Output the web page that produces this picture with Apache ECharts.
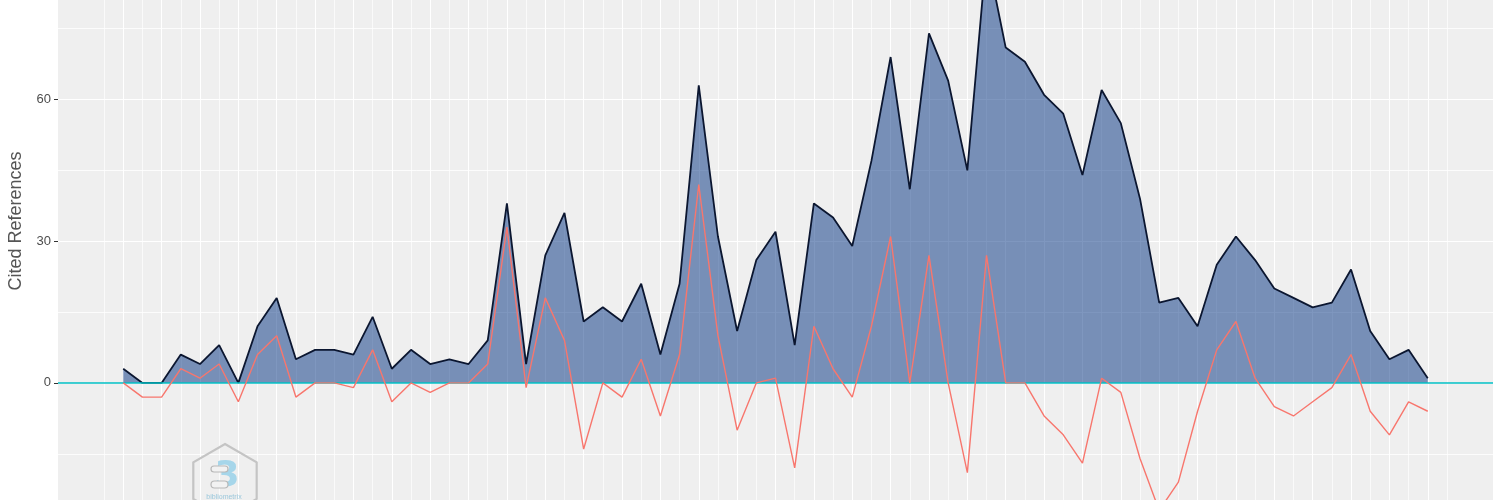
<!DOCTYPE html>
<html>
<head>
<meta charset="utf-8">
<script src="https://cdn.jsdelivr.net/npm/echarts@6/dist/echarts.min.js"></script>
<style>
html,body{margin:0;padding:0;background:#fff;}
#chart{width:1500px;height:500px;}
</style>
</head>
<body>
<div id="chart"></div>
<script>
// Reference years (x positions; axis labels are outside the visible crop)
const years = [1950,1951,1952,1953,1954,1955,1956,1957,1958,1959,
  1960,1961,1962,1963,1964,1965,1966,1967,1968,1969,
  1970,1971,1972,1973,1974,1975,1976,1977,1978,1979,
  1980,1981,1982,1983,1984,1985,1986,1987,1988,1989,
  1990,1991,1992,1993,1994,1995,1996,1997,1998,1999,
  2000,2001,2002,2003,2004,2005,2006,2007,2008,2009,
  2010,2011,2012,2013,2014,2015,2016,2017,2018];

// Number of cited references (black line / blue area)
const citedReferences = [3,0,0,6,4,8,0,12,18,5,
  7,7,6,14,3,7,4,5,4,9,
  38,4,27,36,13,16,13,21,6,21,
  63,31,11,26,32,8,38,35,29,47,
  69,41,74,64,45,91,71,68,61,57,
  44,62,55,39,17,18,12,25,31,26,
  20,18,16,17,24,11,5,7,1];

// Deviation from the 5-year median (red line)
const medianDeviation = [0,-3,-3,3,1,4,-4,6,10,-3,
  0,0,-1,7,-4,0,-2,0,0,4,
  33,-1,18,9,-14,0,-3,5,-7,6,
  42,10,-10,0,1,-18,12,3,-3,12,
  31,0,27,0,-19,27,0,0,-7,-11,
  -17,1,-2,-16,-27,-21,-6,7,13,1,
  -5,-7,-4,-1,6,-6,-11,-4,-6];

// y axis: labelled (major) ticks and minor grid values
const yTickValues = [0, 30, 60];
const yMinorValues = [-15, 15, 45, 75];
const yTitle = 'Cited References';

const chart = echarts.init(document.getElementById('chart'), null, {renderer: 'canvas'});

const n = years.length;
const xPad = (years[n - 1] - years[0]) * 0.05;

// grid lines drawn through the axes' scales
const gridLines = [];
for (let i = -1; i <= n; i++) {
  const yr = years[0] + i;
  const major = (i % 2 === 0);
  gridLines.push({xAxis: yr, lineStyle: {color: '#FFFFFF', width: major ? 1.1 : 0.7, type: 'solid'}});
}
yTickValues.forEach(v => gridLines.push({yAxis: v, lineStyle: {color: '#FFFFFF', width: 1.1, type: 'solid'}}));
yMinorValues.forEach(v => gridLines.push({yAxis: v, lineStyle: {color: '#FFFFFF', width: 0.8, type: 'solid'}}));

const areaData = years.map((y, i) => [y, citedReferences[i]]);
const devData = years.map((y, i) => [y, medianDeviation[i]]);

const option = {
  animation: false,
  backgroundColor: '#FFFFFF',
  grid: {
    left: 58, right: 7, top: 0, bottom: 0,
    show: true, backgroundColor: '#EFEFEF', borderWidth: 0, containLabel: false
  },
  xAxis: {
    type: 'value',
    min: years[0] - xPad,
    max: years[n - 1] + xPad,
    axisLine: {show: false},
    axisTick: {show: false},
    axisLabel: {show: false},
    splitLine: {show: false}
  },
  yAxis: {
    type: 'value',
    min: -24.79, max: 81.07,
    axisLine: {show: false},
    axisTick: {show: true, length: 4, customValues: yTickValues, lineStyle: {color: '#333333', width: 1}},
    axisLabel: {
      show: true, margin: 7, fontSize: 13, color: '#4D4D4D',
      customValues: yTickValues,
      fontFamily: 'Liberation Sans, Arial, sans-serif'
    },
    splitLine: {show: false},
    minorSplitLine: {show: false}
  },
  series: [
    {
      name: 'grid', type: 'line', data: [], z: 1, silent: true,
      markLine: {
        silent: true, z: 1, symbol: ['none', 'none'], label: {show: false},
        emphasis: {disabled: true}, animation: false,
        data: gridLines
      }
    },
    {
      name: 'Citations', type: 'line', data: areaData, z: 2,
      showSymbol: false, silent: true, clip: true,
      lineStyle: {color: '#0B1630', width: 1.8},
      areaStyle: {color: '#002F80', opacity: 0.5, origin: 0}
    },
    {
      name: 'zero', type: 'line', data: [], z: 3, silent: true,
      markLine: {
        silent: true, z: 3, symbol: ['none', 'none'], label: {show: false},
        emphasis: {disabled: true}, animation: false,
        data: [{yAxis: 0, lineStyle: {color: '#00BFC4', width: 1.6, type: 'solid'}}]
      }
    },
    {
      name: 'diffMedian', type: 'line', data: devData, z: 4,
      showSymbol: false, silent: true, clip: true,
      lineStyle: {color: '#F8766D', width: 1.4}
    }
  ],
  graphic: [
    {
      type: 'text', left: 7, top: 221.5 - 70, rotation: Math.PI / 2,
      style: {
        text: yTitle, fill: '#555555', fontSize: 18,
        fontFamily: 'Liberation Sans, Arial, sans-serif'
      },
      z: 10
    },
    {
      type: 'polygon', silent: true, z: 10,
      shape: {points: [[225, 444], [256.7, 462.3], [256.7, 498.9], [225, 517.2], [193.3, 498.9], [193.3, 462.3]]},
      style: {fill: 'none', stroke: '#C4C4C4', lineWidth: 2.2}
    },
    {
      type: 'text', silent: true, z: 10, x: 227, y: 477,
      style: {text: '3', fill: '#A6D6EA', fontSize: 36, fontWeight: 'bold',
        fontFamily: 'DejaVu Sans, sans-serif', align: 'center', verticalAlign: 'middle'}
    },
    {
      type: 'rect', silent: true, z: 11,
      shape: {x: 211, y: 466, width: 17, height: 6, r: 3},
      style: {fill: '#F2F2F2', stroke: '#B8B8B8', lineWidth: 1.2}
    },
    {
      type: 'rect', silent: true, z: 11,
      shape: {x: 211, y: 481, width: 17, height: 7, r: 3.5},
      style: {fill: '#F2F2F2', stroke: '#B8B8B8', lineWidth: 1.2}
    },
    {
      type: 'text', silent: true, z: 10, x: 224, y: 497,
      style: {text: 'bibliometrix', fill: '#9CC8DC', fontSize: 7,
        fontFamily: 'Liberation Sans, sans-serif', align: 'center', verticalAlign: 'middle'}
    }
  ]
};
chart.setOption(option);
</script>
</body>
</html>
